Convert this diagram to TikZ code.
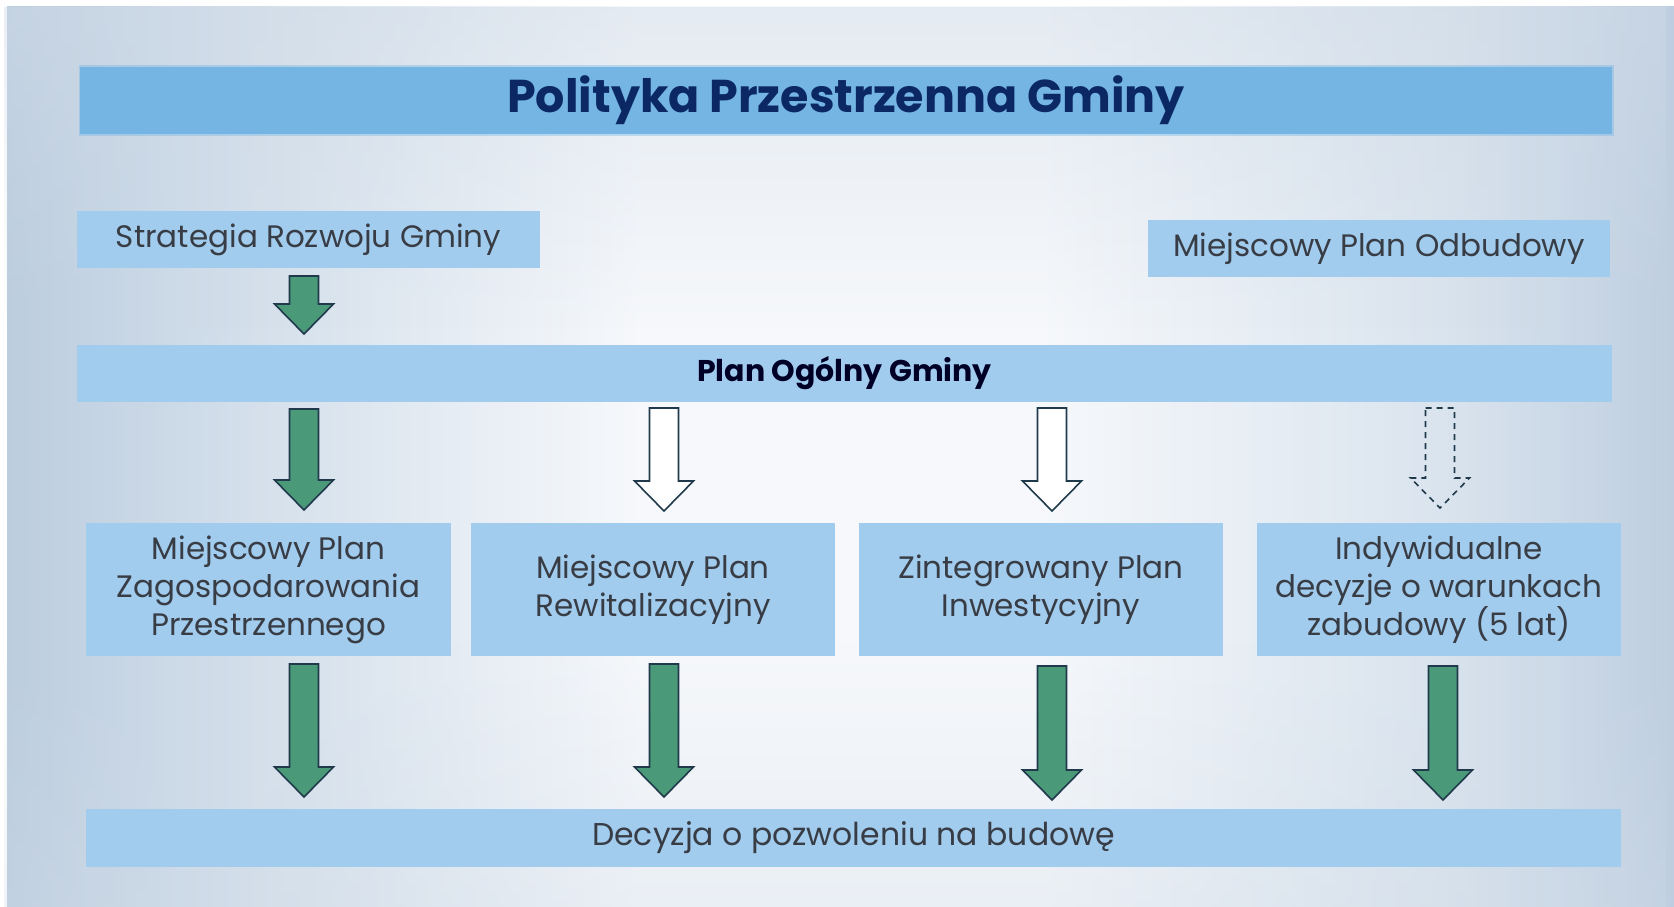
\documentclass[tikz,border=0pt]{standalone}
\usepackage{fontspec}
\setmainfont{Poppins}
\usetikzlibrary{calc,fadings}
\definecolor{titlebar}{RGB}{116,181,228}
\definecolor{boxfill}{RGB}{162,204,238}
\definecolor{titletext}{RGB}{12,40,100}
\definecolor{bodytext}{RGB}{56,60,68}
\definecolor{arrgreen}{RGB}{74,153,120}
\definecolor{arrline}{RGB}{32,58,76}
\definecolor{bgL}{RGB}{188,205,223}
\definecolor{bgLm}{RGB}{214,225,236}
\definecolor{bgMid}{RGB}{246,248,251}
\definecolor{bgRm}{RGB}{218,228,238}
\definecolor{bgR}{RGB}{190,206,224}
\definecolor{bgTop}{RGB}{208,219,231}
\pgfdeclarehorizontalshading{bgshade}{100bp}{color(0bp)=(bgL); color(25bp)=(bgL); color(33bp)=(bgLm); color(44bp)=(bgMid); color(56bp)=(bgMid); color(68bp)=(bgRm); color(75bp)=(bgR); color(100bp)=(bgR)}
\newcommand\barrow[3]{\draw[#1] let \p1=(#2), \p2=(#3) in
  (\x1-14.5pt,\y1) -- (\x1+14.5pt,\y1) -- (\x1+14.5pt,\y2+30pt) -- (\x1+29.5pt,\y2+30pt)
  -- (\x1,\y2) -- (\x1-29.5pt,\y2+30pt) -- (\x1-14.5pt,\y2+30pt) -- cycle;}
\tikzset{
  box/.style={fill=boxfill, inner sep=0pt, text=bodytext, align=center,
    font=\fontsize{31}{38}\selectfont},
  greenarr/.style={fill=arrgreen, draw=arrline, line width=1.6pt, line join=miter},
  whitearr/.style={fill=white, draw=arrline, line width=1.6pt, line join=miter},
  dasharr/.style={draw=arrline, line width=1.6pt, dash pattern=on 6pt off 5pt},
}
\begin{document}
\begin{tikzpicture}[x=1pt,y=-1pt]
\useasboundingbox (0,0) rectangle (1674,907);
\fill[white] (0,0) rectangle (1674,907);
\shade[shading=bgshade] (7,7) rectangle (1674,907);
\fill[bgTop, path fading=south, opacity=0.45] (7,7) rectangle (1674,330);
\fill[bgTop, path fading=north, opacity=0.3] (7,640) rectangle (1674,907);
% title bar with soft edge
\fill[titlebar, opacity=0.4] (78.5,65.5) rectangle (1613.5,135.5);
\node[fill=titlebar, minimum width=1532pt, minimum height=67pt, inner sep=0pt,
  text=titletext, font=\fontsize{46}{50}\bfseries] (title) at (846,100.5) {Polityka Przestrzenna Gminy};
\node[box, minimum width=463pt, minimum height=57pt] (strat) at (308.5,239.5) {Strategia Rozwoju Gminy};
\node[box, minimum width=462pt, minimum height=57pt] (odb) at (1379,248.5) {Miejscowy Plan Odbudowy};
\node[box, minimum width=1535pt, minimum height=57pt, text=black!85!blue,
  font=\fontsize{30}{34}\bfseries] (plan) at (844.5,373.5) {Plan Ogólny Gminy};
\node[box, minimum width=365pt, minimum height=133pt] (mpzp) at (268.5,589.5) {Miejscowy Plan\\Zagospodarowania\\Przestrzennego};
\node[box, minimum width=364pt, minimum height=133pt] (mpr) at (653,589.5) {Miejscowy Plan\\Rewitalizacyjny};
\node[box, minimum width=364pt, minimum height=133pt] (zpi) at (1041,589.5) {Zintegrowany Plan\\Inwestycyjny};
\node[box, minimum width=364pt, minimum height=133pt] (wz) at (1439,589.5) {Indywidualne\\decyzje o warunkach\\zabudowy (5 lat)};
\node[box, minimum width=1535pt, minimum height=58pt, font=\fontsize{31.5}{36}\selectfont] (bud) at (853.5,838) {Decyzja o pozwoleniu na budowę};
% arrow end points
\coordinate (g0s) at (304,276); \coordinate (g0e) at (304,334);
\coordinate (g1s) at (304,409); \coordinate (g1e) at (304,510);
\coordinate (w2s) at (664,408); \coordinate (w2e) at (664,511);
\coordinate (w3s) at (1052,408); \coordinate (w3e) at (1052,511);
\coordinate (d4s) at (1440,408); \coordinate (d4e) at (1440,508);
\coordinate (b1s) at (304,664); \coordinate (b1e) at (304,797);
\coordinate (b2s) at (664,664); \coordinate (b2e) at (664,797);
\coordinate (b3s) at (1052,666); \coordinate (b3e) at (1052,800);
\coordinate (b4s) at (1443,666); \coordinate (b4e) at (1443,800);
\barrow{greenarr}{g0s}{g0e}
\barrow{greenarr}{g1s}{g1e}
\barrow{whitearr}{w2s}{w2e}
\barrow{whitearr}{w3s}{w3e}
\barrow{dasharr}{d4s}{d4e}
\barrow{greenarr}{b1s}{b1e}
\barrow{greenarr}{b2s}{b2e}
\barrow{greenarr}{b3s}{b3e}
\barrow{greenarr}{b4s}{b4e}
\end{tikzpicture}
\end{document}
